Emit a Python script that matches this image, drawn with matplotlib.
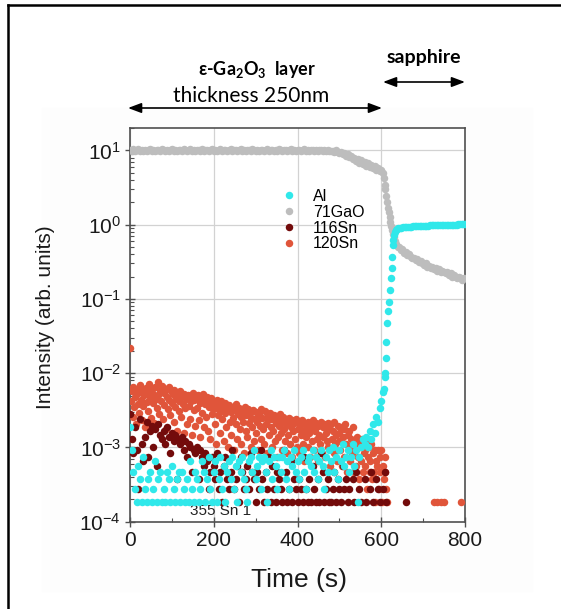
import numpy as np
import matplotlib
matplotlib.use("Agg")
import matplotlib.pyplot as plt
from matplotlib.lines import Line2D
from matplotlib.patches import Rectangle, FancyArrowPatch
from matplotlib.ticker import FixedLocator, LogLocator, FuncFormatter, NullFormatter

plt.rcParams["font.family"] = ["Liberation Sans", "DejaVu Sans"]
plt.rcParams["mathtext.fontset"] = "custom"
plt.rcParams["mathtext.rm"] = "Liberation Sans"
plt.rcParams["mathtext.bf"] = "Lato:bold"

W_PX, H_PX, DPI = 561, 609, 100

# detector counts -> intensity
COUNT_UNIT = 9.3e-5
STEP_A = 4.0   # s, Al and 116Sn sampling
STEP_B = 2.0   # s, 120Sn sampling

AL_COUNTS = [
    20, 10, 5, 3, 2, 6, 4, 2, 8, 3,
    2, 4, 5, 2, 3, 7, 2, 4, 5, 2,
    3, 2, 5, 4, 2, 6, 3, 2, 4, 5,
    2, 5, 3, 2, 4, 2, 7, 3, 2, 5,
    4, 2, 3, 7, 5, 2, 4, 8, 3, 2,
    5, 7, 2, 4, 8, 3, 6, 2, 5, 7,
    4, 8, 3, 6, 2, 7, 5, 8, 4, 3,
    2, 7, 8, 5, 10, 4, 6, 8, 3, 7,
    8, 5, 2, 7, 10, 4, 8, 6, 3, 8,
    5, 8, 10, 4, 7, 3, 8, 6, 10, 5,
    7, 4, 8, 10, 5, 3, 7, 8, 6, 10,
    5, 8, 4, 7, 10, 6, 3, 8, 5, 10,
    7, 11, 5, 8, 4, 10, 7, 12, 6, 8,
    10, 5, 8, 12, 6, 10, 2, 8, 11, 14,
    12, 15, 11, 18, 14, 22, 17, 28, 24, 36,
]
AL_RISE_T = [600, 603, 606, 608, 610, 611, 612, 614, 616, 618,
             621, 623, 625, 626, 627, 629, 631, 633, 635, 637]
AL_RISE_V = [4.2e-3, 5.5e-3, 6.2e-3, 9.0e-3, 1.0e-2, 1.6e-2, 2.6e-2, 4.7e-2, 6.8e-2, 0.09,
             0.13, 0.19, 0.26, 0.37, 0.53, 0.62, 0.73, 0.80, 0.85, 0.88]
AL_PLATEAU_T0 = 640
AL_PLATEAU_V = [0.89, 0.90, 0.91, 0.92, 0.92, 0.93, 0.93, 0.94, 0.94, 0.95,
                0.95, 0.95, 0.96, 0.96, 0.96, 0.97, 0.97, 0.97, 0.97, 0.98,
                0.98, 0.98, 0.98, 0.98, 0.99, 0.99, 0.99, 0.99, 0.99, 1.00,
                1.00, 1.00, 1.00, 1.00, 1.00, 1.00, 1.01, 1.01, 1.01, 1.01, 1.01]

GAO_FLAT_V = [
    10.1, 9.8, 10.3, 9.9, 10.0, 10.4, 9.7, 10.1, 9.9, 10.2,
    9.8, 10.0, 10.3, 9.9, 10.1, 9.7, 10.2, 10.0, 9.8, 10.4,
    10.1, 9.9, 10.2, 9.8, 10.0, 10.3, 9.9, 10.1, 9.7, 10.2,
    10.0, 9.8, 10.3, 10.1, 9.9, 10.0, 10.4, 9.8, 10.1, 9.9,
    10.2, 10.0, 9.7, 10.3, 9.9, 10.1, 10.0, 9.8, 10.2, 10.4,
    9.9, 10.1, 9.8, 10.0, 10.3, 9.9, 10.2, 10.0, 9.7, 10.1,
    10.3, 9.9, 10.0, 10.2, 9.8, 10.1, 10.4, 9.9, 10.0, 9.8,
    10.2, 10.1, 9.9, 10.3, 10.0, 9.8, 10.1, 9.9, 10.2, 10.0,
    9.7, 10.1, 10.3, 9.9, 10.0, 10.2, 9.8, 10.1, 9.9, 10.4,
    10.0, 9.8, 10.2, 10.1, 9.9, 10.0, 10.3, 9.8, 10.1, 9.9,
    10.2, 10.0, 9.8, 10.1, 10.3, 9.9, 10.0, 9.7, 10.2, 10.1,
    9.9, 10.0, 9.8, 10.2, 10.0, 9.9, 10.1, 9.8, 10.0, 9.9,
    9.9,
]
GAO_DECLINE_T0 = 484
GAO_DECLINE_V = [9.9, 9.6, 10.0, 9.4, 9.3, 9.6, 8.9, 9.2, 8.4, 8.8,
                 8.1, 8.5, 7.6, 8.0, 7.2, 7.7, 6.8, 7.4, 6.5, 7.0,
                 6.2, 6.7, 5.9, 6.4, 5.7, 6.1, 5.4, 5.8, 5.2, 5.5, 5.0]
GAO_DROP_T = [606, 608, 610, 612, 614, 616, 618, 620, 622, 624, 626, 628, 630, 633, 636, 639]
GAO_DROP_V = [4.2, 3.4, 3.0, 2.4, 2.0, 1.7, 1.5, 1.25, 1.1, 0.95, 0.85, 0.75, 0.68, 0.60, 0.55, 0.50]
GAO_TAIL_T0 = 642
GAO_TAIL_V = [0.50, 0.46, 0.47, 0.42, 0.43, 0.39, 0.40, 0.37, 0.36, 0.35,
              0.33, 0.34, 0.31, 0.32, 0.30, 0.29, 0.30, 0.27, 0.28, 0.26,
              0.27, 0.25, 0.26, 0.24, 0.25, 0.23, 0.24, 0.23, 0.22, 0.23,
              0.21, 0.22, 0.20, 0.21, 0.20, 0.19, 0.20, 0.19, 0.18, 0.19]

SN116_COUNTS = [
    30, 14, 9, 20, 10, 3, 26, 12, 7, 15,
    24, 8, 18, 21, 11, 19, 6, 22, 16, 14,
    18, 12, 20, 15, 9, 17, 13, 16, 4, 14,
    12, 15, 10, 13, 8, 12, 11, 5, 10, 9,
    11, 4, 10, 8, 6, 9, 7, 3, 5, 8,
    6, 4, 9, 3, 5, 2, 6, 8, 4, 3,
    5, 10, 3, 4, 6, 2, 8, 5, 3, 4,
    6, 3, 9, 5, 4, 2, 5, 3, 10, 4,
    2, 5, 3, 8, 2, 6, 3, 2, 5, 4,
    3, 2, 10, 5, 2, 3, 7, 2, 4, 3,
    2, 4, 3, 2, 8, 3, 2, 4, 2, 6,
    3, 2, 4, 2, 9, 5, 2, 3, 4, 2,
    2, 3, 5, 2, 4, 3, 2, 6, 3, 4,
    2, 3, 0, 4, 2, 5, 0, 3, 2, 0,
    4, 2, 0, 3, 5, 2, 0, 4, 3, 2, 0, 3, 5, 2,
]
SN116_LATE_T = [658]
SN116_LATE_C = [2]

SN120_COUNTS = [
    237, 45, 62, 28, 71, 38, 52, 22, 66, 41,
    58, 31, 74, 47, 25, 63, 39, 55, 20, 68,
    44, 60, 33, 77, 51, 27, 65, 42, 57, 23,
    70, 48, 36, 82, 54, 30, 61, 45, 73, 26,
    58, 40, 66, 19, 52, 35, 69, 47, 29, 62,
    43, 56, 24, 64, 38, 50, 18, 59, 33, 46,
    61, 28, 53, 41, 17, 57, 36, 48, 22, 55,
    39, 52, 26, 45, 16, 58, 34, 47, 21, 50,
    37, 54, 25, 43, 15, 49, 31, 56, 20, 41,
    46, 28, 52, 18, 38, 44, 14, 50, 30, 35,
    42, 22, 36, 12, 47, 29, 40, 17, 33, 45,
    26, 38, 13, 31, 43, 20, 35, 11, 40, 24,
    32, 16, 37, 27, 10, 34, 22, 41, 14, 30,
    36, 19, 28, 12, 33, 24, 9, 38, 18, 29,
    15, 35, 23, 31, 11, 27, 20, 34, 13, 26,
    32, 17, 24, 10, 30, 21, 35, 14, 27, 19,
    12, 33, 22, 28, 9, 25, 16, 31, 20, 11,
    26, 18, 29, 13, 23, 8, 27, 15, 21, 30,
    17, 24, 10, 28, 19, 13, 26, 9, 22, 16,
    27, 12, 20, 25, 8, 18, 23, 14, 26, 11,
    19, 24, 9, 21, 16, 25, 12, 18, 7, 23,
    15, 20, 11, 24, 17, 8, 22, 13, 19, 25,
    10, 18, 23, 14, 7, 21, 16, 12, 24, 9,
    20, 15, 22, 8, 17, 13, 23, 11, 19, 6,
    22, 14, 18, 9, 24, 12, 16, 7, 21, 13,
    17, 10, 20, 6, 15, 19, 8, 22, 12, 5,
    16, 11, 18, 7, 14, 9, 20, 5, 13, 10,
    6, 15, 8, 12, 4, 11, 7, 14, 5, 9,
    10, 6, 13, 3, 8, 11, 5, 7, 12, 4,
    9, 5, 10, 2, 7, 6, 10, 3, 8, 5,
    10, 2, 6, 4, 8, 5, 3, 2,
]
SN120_LATE_T = [726, 734, 742, 750, 790]
SN120_LATE_C = [2, 2, 2, 2, 2]

SERIES_LABELS = ["Al", "71GaO", "116Sn", "120Sn"]
SERIES_COLORS = ["#30e8ea", "#bdbdbd", "#730b0b", "#e0553a"]

X_TICKS = [0, 200, 400, 600, 800]


def px(x, y):
    """reference pixel (from top-left) -> figure fraction"""
    return x / W_PX, 1 - y / H_PX


def counts_to_series(counts, step, t0=0.0):
    c = np.asarray(counts, dtype=float)
    t = t0 + np.arange(len(c)) * step
    keep = c > 0
    return t[keep], c[keep] * COUNT_UNIT


# assemble series
al_t0, al_v0 = counts_to_series(AL_COUNTS, STEP_A)
al_t = np.concatenate([al_t0, AL_RISE_T, AL_PLATEAU_T0 + np.arange(len(AL_PLATEAU_V)) * STEP_A])
al_v = np.concatenate([al_v0, AL_RISE_V, AL_PLATEAU_V])

gao_t = np.concatenate([np.arange(len(GAO_FLAT_V)) * STEP_A,
                        GAO_DECLINE_T0 + np.arange(len(GAO_DECLINE_V)) * STEP_A,
                        GAO_DROP_T,
                        GAO_TAIL_T0 + np.arange(len(GAO_TAIL_V)) * STEP_A])
gao_v = np.concatenate([GAO_FLAT_V, GAO_DECLINE_V, GAO_DROP_V, GAO_TAIL_V])

s116_t, s116_v = counts_to_series(SN116_COUNTS, STEP_A)
s116_t = np.concatenate([s116_t, SN116_LATE_T])
s116_v = np.concatenate([s116_v, np.asarray(SN116_LATE_C) * COUNT_UNIT])

s120_t, s120_v = counts_to_series(SN120_COUNTS, STEP_B)
s120_t = np.concatenate([s120_t, SN120_LATE_T])
s120_v = np.concatenate([s120_v, np.asarray(SN120_LATE_C) * COUNT_UNIT])

fig = plt.figure(figsize=(W_PX / DPI, H_PX / DPI), dpi=DPI)
fig.patch.set_facecolor("white")

# faint backdrop of the pasted chart + screenshot frame
fig.add_artist(Rectangle(px(42, 591), (532 - 42) / W_PX, (591 - 108) / H_PX,
                         transform=fig.transFigure, color="#fdfdfd", zorder=0))
fx0, fy0 = px(8, 5)
fig.add_artist(Line2D([fx0, fx0], [0, fy0], transform=fig.transFigure, color="black", lw=1.8))
fig.add_artist(Line2D([fx0, 1], [fy0, fy0], transform=fig.transFigure, color="black", lw=1.8))

left, top = px(130, 128)
right, bottom = px(465, 521.7)
ax = fig.add_axes([left, bottom, right - left, top - bottom])
ax.set_facecolor("white")

ms = 5.4
order = [(s120_t, s120_v, 3), (s116_t, s116_v, 2), (al_t, al_v, 0), (gao_t, gao_v, 1)]
handles = {}
for t, v, k in order:
    h, = ax.plot(t, v, "o", ms=ms, mew=0, color=SERIES_COLORS[k], label=SERIES_LABELS[k],
                 zorder=3 + (3 - k) * 0.1)
    handles[k] = h

ax.set_yscale("log")
ax.set_xlim(0, 800)
ax.set_ylim(1e-4, 20)

ax.xaxis.set_major_locator(FixedLocator(X_TICKS))
ax.xaxis.set_minor_locator(FixedLocator([100, 300, 500, 700]))
ax.yaxis.set_major_locator(LogLocator(base=10, numticks=10))
ax.yaxis.set_minor_locator(LogLocator(base=10, subs=np.arange(2, 10), numticks=20))
ax.yaxis.set_major_formatter(FuncFormatter(lambda v, p: r"$\mathdefault{10^{%d}}$" % round(np.log10(v))))
ax.yaxis.set_minor_formatter(NullFormatter())

ax.grid(True, which="major", color="#d2d2d2", lw=0.9, zorder=0)
ax.set_axisbelow(True)
for s in ax.spines.values():
    s.set_color("#505050")
    s.set_linewidth(1.2)
ax.tick_params(which="major", direction="inout", length=7, width=1.0, color="#505050",
               labelsize=15, labelcolor="#1a1a1a", pad=3)
ax.tick_params(which="minor", direction="in", length=3, width=0.8, color="#505050")

ax.set_xlabel("Time (s)", fontsize=19, color="#1a1a1a")
ax.xaxis.set_label_coords(0.504, -0.118)
ax.set_ylabel("Intensity (arb. units)", fontsize=15, color="#1a1a1a")
ax.yaxis.set_label_coords(-0.224, 0.52)

ax.text(0.18, 0.028, "355 Sn 1", transform=ax.transAxes, fontsize=11, color="#222222",
        ha="left", va="center")

leg = ax.legend([handles[k] for k in range(4)], SERIES_LABELS, loc="upper left",
                bbox_to_anchor=(0.451, 0.845), frameon=False, fontsize=11.5,
                handlelength=1.0, handletextpad=1.0, labelspacing=0.05,
                borderpad=0, borderaxespad=0, markerscale=1.0)

# header annotations
hx, hy = px(257, 69)
fig.text(hx, hy, r"ε-Ga$_\mathbf{2}$O$_\mathbf{3}$  layer", family=["Lato", "DejaVu Sans"],
         fontweight="bold", fontsize=13, ha="center", va="center")
tx, ty = px(251, 96)
fig.text(tx, ty, "thickness 250nm", family=["Lato", "DejaVu Sans"], fontsize=15,
         ha="center", va="center")
sx, sy = px(424, 58)
fig.text(sx, sy, "sapphire", family=["Lato", "DejaVu Sans"], fontweight="bold",
         fontsize=14, ha="center", va="center")

arrow_kw = dict(arrowstyle="<|-|>,head_length=0.8,head_width=0.3", color="black", lw=1.2,
                shrinkA=0, shrinkB=0, mutation_scale=10)
fig.add_artist(FancyArrowPatch(px(128, 108), px(382, 108), transform=fig.transFigure, **arrow_kw))
fig.add_artist(FancyArrowPatch(px(383, 82), px(465, 82), transform=fig.transFigure, **arrow_kw))

fig.savefig("out.png", dpi=DPI)
